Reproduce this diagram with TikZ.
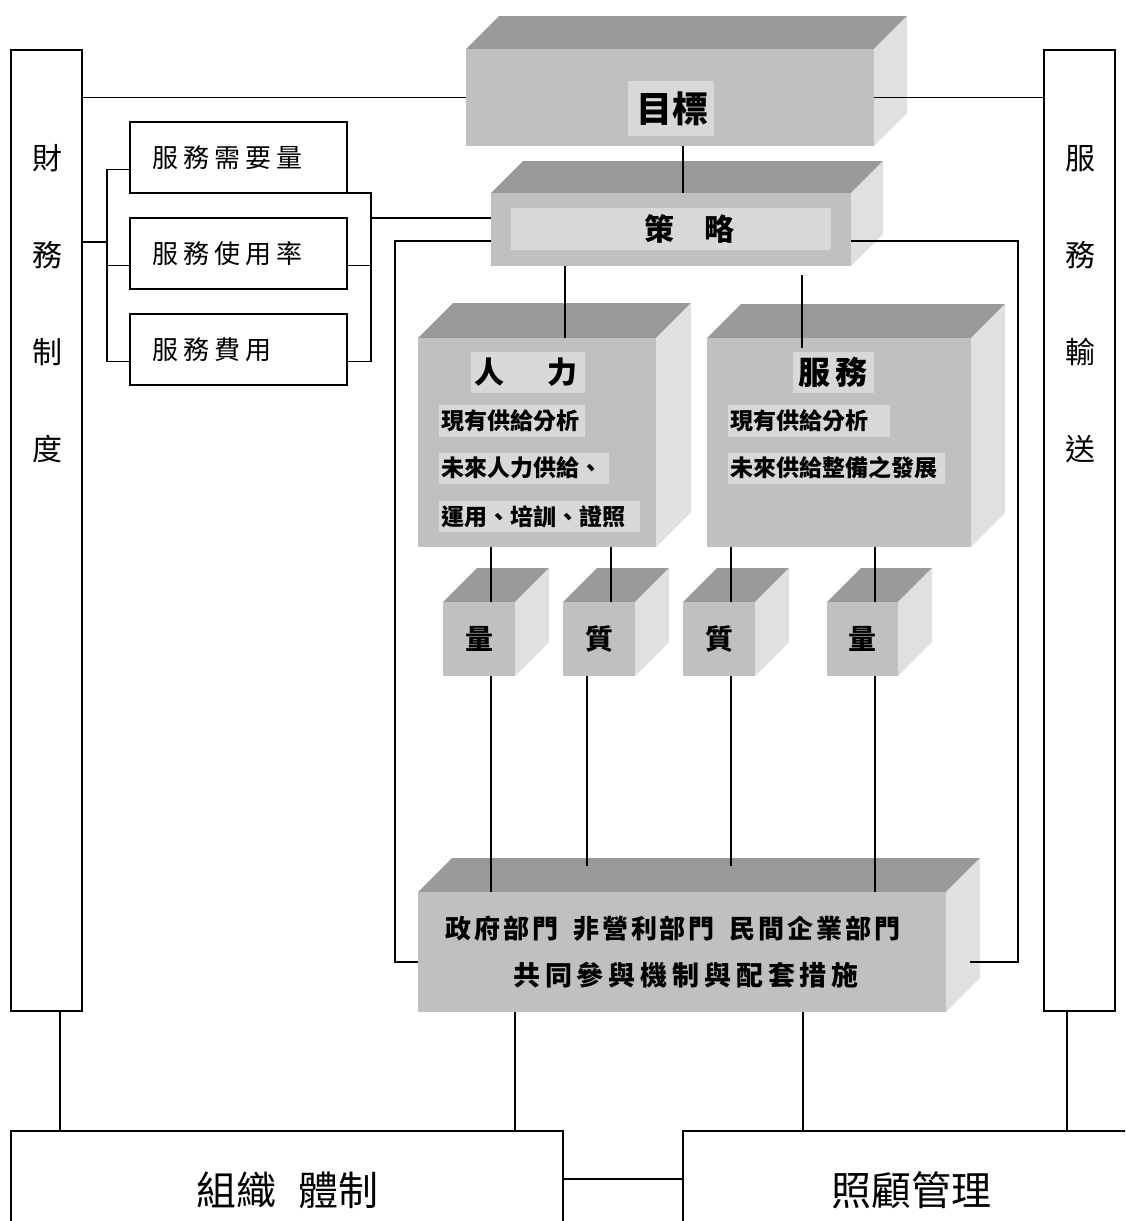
\documentclass[tikz,border=0pt]{standalone}
\usepackage{fontspec}
\newfontfamily\cjk{Noto Sans CJK TC}
\newfontfamily\cjkA[LetterSpace=20]{Noto Sans CJK TC}
\newfontfamily\cjkB[LetterSpace=11]{Noto Sans CJK TC}
\newfontfamily\cjkC[LetterSpace=18]{Noto Sans CJK TC}
\usetikzlibrary{calc}
\definecolor{topc}{HTML}{999999}
\definecolor{frontc}{HTML}{C0C0C0}
\definecolor{sidec}{HTML}{E0E0E0}
\definecolor{lblc}{HTML}{D8D8D8}
\newcommand\fsz[1]{\fontsize{#1pt}{#1pt}\selectfont}
\newcommand\cubebox[6]{%
  \fill[topc] (#2,#3) -- (#2+#6,#3-#6) -- (#4+#6,#3-#6) -- (#4,#3) -- cycle;
  \fill[sidec] (#4,#3) -- (#4+#6,#3-#6) -- (#4+#6,#5-#6) -- (#4,#5) -- cycle;
  \node[face, minimum width={(#4-#2)*1pt}, minimum height={(#5-#3)*1pt}] (#1) at (#2,#3) {};
}
\tikzset{
  conn/.style={line width=1.7pt, draw=black},
  plainbox/.style={draw=black, line width=1.8pt, rectangle, inner sep=0pt, outer sep=0pt, anchor=north west},
  face/.style={rectangle, inner sep=0pt, outer sep=0pt, anchor=north west, fill=frontc},
  bt/.style={font=\cjk\bfseries\fsz{#1}, inner sep=0pt},
}
\begin{document}
\begin{tikzpicture}[x=1pt,y=-1pt]
\useasboundingbox (0,0) rectangle (1125,1221);
\clip (0,0) rectangle (1125,1221);
\fill[white] (0,0) rectangle (1125,1221);

% side columns
\node[plainbox, minimum width=71pt, minimum height=961pt] (fin) at (11,50) {};
\node[plainbox, minimum width=71pt, minimum height=961pt] (svc) at (1044,50) {};
\node[font=\cjk\fontsize{30pt}{97pt}\selectfont, align=center, inner sep=0pt] (fint) at (47,304) {財\\務\\制\\度};
\node[font=\cjk\fontsize{30pt}{97pt}\selectfont, align=center, inner sep=0pt] (svct) at (1080,304) {服\\務\\輸\\送};

% small boxes
\tikzset{smallbox/.style={plainbox, minimum height=71pt, text width=173pt, inner xsep=22pt, align=left, font=\cjkA\fsz{26}}}
\node[smallbox] (dem) at (130,122) {服務需要量};
\node[smallbox] (use) at (130,218) {服務使用率};
\node[smallbox] (fee) at (130,314) {服務費用};

% bottom boxes
\node[plainbox, minimum width=552pt, minimum height=119pt, font=\cjk\fsz{40}] (org) at (11,1131) {組織\hspace{22pt}體制};
\node[plainbox, minimum width=456pt, minimum height=119pt, font=\cjk\fsz{40}] (care) at (683,1131) {照顧管理};

% cubes
\cubebox{goal}{466}{49}{874}{146}{33}
\cubebox{strat}{491}{193}{851}{266}{32}
\cubebox{hr}{418}{338}{656}{547}{35}
\cubebox{sv}{707}{338}{971}{547}{34}
\cubebox{qa}{443}{602}{515}{676}{34}
\cubebox{qb}{563}{602}{635}{676}{34}
\cubebox{qc}{683}{602}{755}{676}{34}
\cubebox{qd}{827}{602}{898}{676}{34}
\cubebox{bot}{418}{892}{946}{1012}{34}

% label backgrounds
\fill[lblc] (628,81) rectangle (714,136);
\fill[lblc] (511,208) rectangle (831,250);
\fill[lblc] (471,352) rectangle (585,393);
\fill[lblc] (439,405) rectangle (585,437);
\fill[lblc] (439,453) rectangle (609,484);
\fill[lblc] (439,501) rectangle (640,532);
\fill[lblc] (793,352) rectangle (874,393);
\fill[lblc] (728,405) rectangle (890,437);
\fill[lblc] (728,453) rectangle (945,484);

% cube texts
\node[bt=36] (goalt) at (672,109) {目標};
\node[bt=30] (stratt) at (689,229) {策\hspace{30pt}略};
\node[bt=30] (hrt) at (526,372) {人\hspace{44pt}力};
\node[bt=32] (svt) at (833,372) {服\hspace{6pt}務};
\node[bt=23, anchor=west] (hra) at (441,421) {現有供給分析};
\node[bt=23, anchor=west] (hrb) at (441,468) {未來人力供給、};
\node[bt=23, anchor=west] (hrc) at (441,517) {運用、培訓、證照};
\node[bt=23, anchor=west] (sva) at (730,421) {現有供給分析};
\node[bt=23, anchor=west] (svb) at (730,468) {未來供給整備之發展};
\node[bt=28] (qat) at (qa) {量};
\node[bt=28] (qbt) at (qb) {質};
\node[bt=28] (qct) at (qc) {質};
\node[bt=28] (qdt) at (qd) {量};
\node[inner sep=0pt, font=\cjkB\bfseries\fsz{26}] (bott1) at (673,929) {政府部門\hspace{15pt}非營利部門\hspace{15pt}民間企業部門};
\node[inner sep=0pt, font=\cjkC\bfseries\fsz{27}] (bott2) at (686,975) {共同參與機制與配套措施};

% guide coordinates
\coordinate (gx0) at (683,0);
\coordinate (gx1) at (565,0);
\coordinate (gx2) at (802,0);
\coordinate (gx3) at (491,0);
\coordinate (gx4) at (611,0);
\coordinate (gx5) at (731,0);
\coordinate (gx6) at (875,0);
\coordinate (gx7) at (587,0);
\coordinate (gx8) at (60,0);
\coordinate (gx9) at (515,0);
\coordinate (gx10) at (803,0);
\coordinate (gx11) at (1067,0);
\coordinate (gy) at (0,1179);
\coordinate (lb) at (107,242);
\coordinate (rb) at (371,218);
\coordinate (ll) at (395,241);
\coordinate (rl) at (1018,241);
\coordinate (d1) at ([yshift=-12pt]dem.west);
\coordinate (u1) at ([yshift=-12pt]use.west);
\coordinate (f1) at ([yshift=-12pt]fee.west);
\coordinate (u2) at ([yshift=-12pt]use.east);
\coordinate (f2) at ([yshift=-12pt]fee.east);
\coordinate (bl) at ([yshift=-10pt]bot.west);
\coordinate (br) at ([xshift=24pt,yshift=-10pt]bot.east);

% connectors
\draw[conn] (goal.west -| fin.east) -- (goal.west);
\draw[conn] (goal.east) -- (goal.east -| svc.west);
\draw[conn] (goal.south -| gx0) -- (strat.north -| gx0);
\draw[conn] (fin.east |- lb) -- (lb);
\draw[conn] (d1) -- (d1 -| lb) -- (f1 -| lb) -- (f1);
\draw[conn] (u1) -- (u1 -| lb);
\draw[conn] (dem.south east) -- (dem.south east -| rb) -- (f2 -| rb) -- (f2);
\draw[conn] (u2) -- (u2 -| rb);
\draw[conn] (rb) -- (rb -| strat.west);
\draw[conn] (strat.west |- ll) -- (ll) |- (bl);
\draw[conn] (strat.east |- rl) -- (rl) |- (br);
\draw[conn] (strat.south -| gx1) -- (hr.north -| gx1);
\draw[conn] ($(strat.south -| gx2)+(0,9)$) -- ($(sv.north -| gx2)+(0,10)$);
\draw[conn] (hr.south -| gx3) -- (qa.north -| gx3);
\draw[conn] (hr.south -| gx4) -- (qb.north -| gx4);
\draw[conn] (sv.south -| gx5) -- (qc.north -| gx5);
\draw[conn] (sv.south -| gx6) -- (qd.north -| gx6);
\draw[conn] (qa.south -| gx3) -- (bot.north -| gx3);
\draw[conn] (qb.south -| gx7) -- ($(bot.north -| gx7)+(0,-26)$);
\draw[conn] (qc.south -| gx5) -- ($(bot.north -| gx5)+(0,-26)$);
\draw[conn] (qd.south -| gx6) -- (bot.north -| gx6);
\draw[conn] (fin.south -| gx8) -- (org.north -| gx8);
\draw[conn] (bot.south -| gx9) -- (org.north -| gx9);
\draw[conn] (bot.south -| gx10) -- (care.north -| gx10);
\draw[conn] (svc.south -| gx11) -- (care.north -| gx11);
\draw[conn] (org.east |- gy) -- (care.west |- gy);
\end{tikzpicture}
\end{document}
